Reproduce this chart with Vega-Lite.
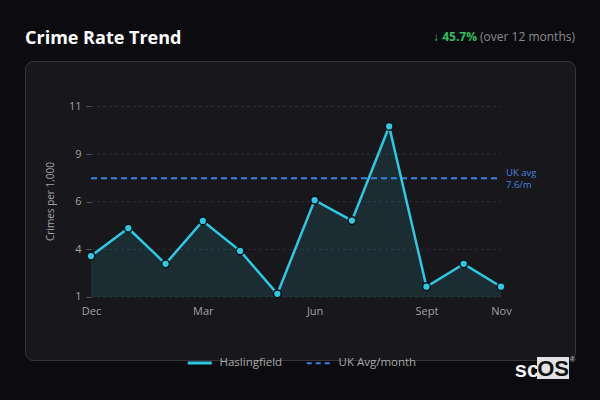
{
  "$schema": "https://vega.github.io/schema/vega-lite/v6.json",
  "width": 550,
  "height": 299,
  "autosize": {"type": "none"},
  "padding": {"left": 25, "top": 61, "right": 25, "bottom": 40},
  "background": "#0c0c10",
  "title": {"text": "Crime Rate Trend", "anchor": "start", "frame": "group", "fontSize": 18, "fontWeight": "bold", "color": "#ffffff", "font": "Open Sans", "offset": 14, "dy": 31},
  "config": {
    "font": "Open Sans",
    "view": {"fill": "#18181c", "stroke": "#35353a", "cornerRadius": 8, "strokeWidth": 1}
  },
  "datasets": {
    "trend": [
      {"month": "Dec", "idx": 0, "rate": 3.15, "series": "Haslingfield"},
      {"month": "Jan", "idx": 1, "rate": 4.61, "series": "Haslingfield"},
      {"month": "Feb", "idx": 2, "rate": 2.74, "series": "Haslingfield"},
      {"month": "Mar", "idx": 3, "rate": 4.99, "series": "Haslingfield"},
      {"month": "Apr", "idx": 4, "rate": 3.42, "series": "Haslingfield"},
      {"month": "May", "idx": 5, "rate": 1.17, "series": "Haslingfield"},
      {"month": "Jun", "idx": 6, "rate": 6.08, "series": "Haslingfield"},
      {"month": "Jul", "idx": 7, "rate": 5.01, "series": "Haslingfield"},
      {"month": "Aug", "idx": 8, "rate": 9.95, "series": "Haslingfield"},
      {"month": "Sept", "idx": 9, "rate": 1.54, "series": "Haslingfield"},
      {"month": "Oct", "idx": 10, "rate": 2.74, "series": "Haslingfield"},
      {"month": "Nov", "idx": 11, "rate": 1.54, "series": "Haslingfield"}
    ],
    "grid": [{"v": 1}, {"v": 3.5}, {"v": 6}, {"v": 8.5}, {"v": 11}],
    "avg": [{"series": "UK Avg/month", "v": 7.23, "label": "UK avg", "amount": "7.6/m"}],
    "header": [{"change": "↓ 45.7%", "note": "(over 12 months)"}]
  },
  "layer": [
    {
      "data": {"name": "grid"},
      "mark": {"type": "rule", "stroke": "#2c2c31", "strokeDash": [3, 3], "strokeWidth": 1},
      "encoding": {
        "y": {
          "field": "v", "type": "quantitative", "title": "Crimes per 1,000",
          "scale": {"domain": [-2.307, 13.388], "nice": false, "zero": false},
          "axis": {
            "values": [1, 3.5, 6, 8.5, 11], "format": ".0f", "title": "Crimes per 1,000",
            "offset": -66, "domain": false, "grid": false, "ticks": true, "tickSize": 5, "tickColor": "#55555a",
            "labelColor": "#a0a0a0", "labelFontSize": 11, "labelPadding": 5,
            "titleColor": "#a0a0a0", "titleFontSize": 10, "titleFontWeight": "normal",
            "titleX": -41, "titleY": 140, "titleBaseline": "middle"
          }
        },
        "x": {
          "datum": 0, "type": "quantitative", "title": null,
          "scale": {"domain": [-1.7709, 12.9855], "nice": false, "zero": false},
          "axis": {
            "values": [0, 3, 6, 9, 11],
            "labelExpr": "['Dec','Jan','Feb','Mar','Apr','May','Jun','Jul','Aug','Sept','Oct','Nov'][datum.value]",
            "title": null, "offset": -63, "domain": false, "ticks": false, "grid": false,
            "labelPadding": 8, "labelColor": "#a0a0a0", "labelFontSize": 11, "labelOverlap": false
          }
        },
        "x2": {"datum": 11}
      }
    },
    {
      "data": {"name": "trend"},
      "mark": {"type": "area", "fill": "#2ec8e0", "fillOpacity": 0.12},
      "encoding": {
        "x": {"field": "idx", "type": "quantitative", "title": null},
        "y": {"field": "rate", "type": "quantitative", "title": "Crimes per 1,000"},
        "y2": {"datum": 1}
      }
    },
    {
      "data": {"name": "avg"},
      "mark": {"type": "rule", "strokeDash": [6, 4], "strokeWidth": 2},
      "encoding": {
        "y": {"field": "v", "type": "quantitative", "title": "Crimes per 1,000"},
        "x": {"datum": 0, "type": "quantitative", "title": null},
        "x2": {"datum": 11},
        "color": {
          "field": "series", "type": "nominal",
          "scale": {"domain": ["Haslingfield", "UK Avg/month"], "range": ["#2ec8e0", "#3d7fdc"]},
          "legend": {
            "title": null, "orient": "none", "legendX": 169, "legendY": 296, "direction": "horizontal",
            "symbolType": "stroke", "symbolSize": 576, "symbolStrokeWidth": 3,
            "labelColor": "#a8a8a8", "labelFontSize": 11.5, "labelOffset": 14, "columnPadding": 19,
            "encode": {"symbols": {"update": {"strokeDash": {"signal": "datum.value === 'UK Avg/month' ? [5, 4] : [1, 0]"}, "strokeWidth": {"signal": "datum.value === 'UK Avg/month' ? 2 : 3"}}}}
          }
        }
      }
    },
    {
      "data": {"name": "avg"},
      "mark": {"type": "text", "align": "left", "baseline": "middle", "dx": 5, "dy": -5, "fontSize": 9.5, "color": "#4a80dc"},
      "encoding": {
        "y": {"field": "v", "type": "quantitative", "title": "Crimes per 1,000"},
        "x": {"datum": 11, "type": "quantitative", "title": null},
        "text": {"field": "label"}
      }
    },
    {
      "data": {"name": "avg"},
      "mark": {"type": "text", "align": "left", "baseline": "middle", "dx": 5, "dy": 6.5, "fontSize": 9.5, "color": "#4a80dc"},
      "encoding": {
        "y": {"field": "v", "type": "quantitative", "title": "Crimes per 1,000"},
        "x": {"datum": 11, "type": "quantitative", "title": null},
        "text": {"field": "amount"}
      }
    },
    {
      "data": {"name": "trend"},
      "mark": {"type": "line", "strokeWidth": 2.5},
      "encoding": {
        "x": {"field": "idx", "type": "quantitative", "title": null},
        "y": {"field": "rate", "type": "quantitative", "title": "Crimes per 1,000"},
        "color": {
          "field": "series", "type": "nominal",
          "scale": {"domain": ["Haslingfield", "UK Avg/month"], "range": ["#2ec8e0", "#3d7fdc"]},
          "legend": {
            "title": null, "orient": "none", "legendX": 169, "legendY": 296, "direction": "horizontal",
            "symbolType": "stroke", "symbolSize": 576, "symbolStrokeWidth": 3,
            "labelColor": "#a8a8a8", "labelFontSize": 11.5, "labelOffset": 14, "columnPadding": 19,
            "encode": {"symbols": {"update": {"strokeDash": {"signal": "datum.value === 'UK Avg/month' ? [5, 4] : [1, 0]"}, "strokeWidth": {"signal": "datum.value === 'UK Avg/month' ? 2 : 3"}}}}
          }
        }
      }
    },
    {
      "data": {"name": "trend"},
      "mark": {"type": "point", "filled": true, "fill": "#2ec8e0", "stroke": "#101014", "strokeWidth": 1.5, "size": 60, "opacity": 1},
      "encoding": {
        "x": {"field": "idx", "type": "quantitative", "title": null},
        "y": {"field": "rate", "type": "quantitative", "title": "Crimes per 1,000"}
      }
    },
    {
      "data": {"name": "header"},
      "mark": {"type": "text", "align": "right", "baseline": "middle", "fontSize": 12, "color": "#8a8a8e"},
      "encoding": {
        "x": {"datum": 12.9855, "type": "quantitative", "title": null},
        "y": {"datum": 14.65, "type": "quantitative", "title": "Crimes per 1,000"},
        "text": {"field": "note"}
      }
    },
    {
      "data": {"name": "header"},
      "mark": {"type": "text", "align": "right", "baseline": "middle", "fontSize": 12, "fontWeight": "bold", "color": "#2fbf5f", "dx": -98},
      "encoding": {
        "x": {"datum": 12.9855, "type": "quantitative", "title": null},
        "y": {"datum": 14.65, "type": "quantitative", "title": "Crimes per 1,000"},
        "text": {"field": "change"}
      }
    },
    {
      "data": {"values": [{"brand": "scOS"}]},
      "mark": {"type": "rect", "fill": "#e2e2e2"},
      "encoding": {
        "x": {"datum": 11.967, "type": "quantitative", "title": null},
        "x2": {"datum": 12.825},
        "y": {"datum": -2.15, "type": "quantitative", "title": "Crimes per 1,000"},
        "y2": {"datum": -3.3}
      }
    },
    {
      "data": {"values": [{"brand": "scOS"}]},
      "mark": {"type": "text", "align": "center", "baseline": "middle", "fontSize": 22, "fontWeight": "bold", "font": "Liberation Sans", "color": "#f0f0f0"},
      "encoding": {
        "x": {"datum": 11.70, "type": "quantitative", "title": null},
        "y": {"datum": -2.85, "type": "quantitative", "title": "Crimes per 1,000"},
        "text": {"value": "sc"}
      }
    },
    {
      "data": {"values": [{"brand": "scOS"}]},
      "mark": {"type": "text", "align": "center", "baseline": "middle", "fontSize": 22, "fontWeight": "bold", "font": "Liberation Sans", "color": "#111111"},
      "encoding": {
        "x": {"datum": 12.396, "type": "quantitative", "title": null},
        "y": {"datum": -2.8, "type": "quantitative", "title": "Crimes per 1,000"},
        "text": {"value": "OS"}
      }
    },
    {
      "data": {"values": [{"brand": "scOS"}]},
      "mark": {"type": "text", "align": "center", "baseline": "middle", "fontSize": 7, "font": "Liberation Sans", "color": "#cccccc"},
      "encoding": {
        "x": {"datum": 12.92, "type": "quantitative", "title": null},
        "y": {"datum": -2.3, "type": "quantitative", "title": "Crimes per 1,000"},
        "text": {"value": "®"}
      }
    }
  ]
}
